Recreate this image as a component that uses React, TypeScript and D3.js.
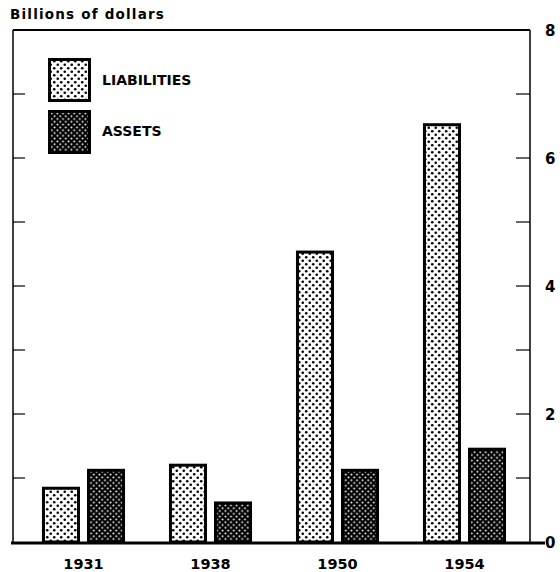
import React from "react";
import * as d3 from "d3";

const years = ["1931", "1938", "1950", "1954"];
const liabilities = [0.84, 1.2, 4.53, 6.52];
const assets = [1.12, 0.61, 1.12, 1.45];
const rightTickLabels = [0, 2, 4, 6, 8];
const minorTicks = [1, 2, 3, 4, 5, 6, 7];
const legendItems = ["LIABILITIES", "ASSETS"];

const W = 560;
const H = 572;
const left = 13;
const right = 530;
const top = 30;
const bottom = 542;

const font = "'DejaVu Sans', Verdana, sans-serif";

export default function App() {
  const y = d3.scaleLinear().domain([0, 8]).range([bottom, top]);
  const x = d3
    .scaleBand()
    .domain(years)
    .range([20, 528])
    .paddingInner(0.346)
    .paddingOuter(0.173);
  const inner = d3
    .scaleBand()
    .domain(["L", "A"])
    .range([1.5, x.bandwidth() - 1.5])
    .paddingInner(0.222);

  return (
    <svg width={W} height={H} style={{ position: "absolute", left: 0, top: 0, background: "#fff" }}>
      <defs>
        <pattern id="dots" width="7" height="7" patternUnits="userSpaceOnUse">
          <rect width="7" height="7" fill="#fff" />
          <circle cx="1.75" cy="1.75" r="1.3" fill="#000" />
          <circle cx="5.25" cy="5.25" r="1.3" fill="#000" />
        </pattern>
        <pattern id="dark" width="5.6" height="5.6" patternUnits="userSpaceOnUse">
          <rect width="5.6" height="5.6" fill="#000" />
          <circle cx="1.4" cy="1.4" r="1.0" fill="#fff" />
          <circle cx="4.2" cy="4.2" r="1.0" fill="#fff" />
        </pattern>
      </defs>

      {/* title */}
      <text
        x={10}
        y={19}
        fontFamily={font}
        fontWeight="bold"
        fontSize={13.5}
        letterSpacing={1.2}
        fill="#000"
      >
        Billions of dollars
      </text>

      {/* frame */}
      <line x1={left} y1={top} x2={right} y2={top} stroke="#000" strokeWidth={2} />
      <line x1={left} y1={top} x2={left} y2={bottom} stroke="#000" strokeWidth={1.5} />
      <line x1={right} y1={top} x2={right} y2={bottom} stroke="#000" strokeWidth={1.5} />

      {/* ticks */}
      {minorTicks.map((t) => (
        <g key={t}>
          <line x1={left} x2={left + 12} y1={y(t)} y2={y(t)} stroke="#000" strokeWidth={1.2} />
          <line x1={right - 14} x2={right} y1={y(t)} y2={y(t)} stroke="#000" strokeWidth={1.2} />
        </g>
      ))}
      {rightTickLabels.map((t) => (
        <text
          key={t}
          x={545}
          y={y(t) + 5.5}
          fontFamily={font}
          fontWeight="bold"
          fontSize={15}
          fill="#000"
        >
          {t}
        </text>
      ))}

      {/* bars */}
      {years.map((yr, i) => (
        <g key={yr}>
          <rect
            x={(x(yr) ?? 0) + (inner("L") ?? 0)}
            y={y(liabilities[i])}
            width={inner.bandwidth()}
            height={bottom - y(liabilities[i])}
            fill="url(#dots)"
            stroke="#000"
            strokeWidth={3}
          />
          <rect
            x={(x(yr) ?? 0) + (inner("A") ?? 0)}
            y={y(assets[i])}
            width={inner.bandwidth()}
            height={bottom - y(assets[i])}
            fill="url(#dark)"
            stroke="#000"
            strokeWidth={3}
          />
          <text
            x={(x(yr) ?? 0) + x.bandwidth() / 2}
            y={569}
            textAnchor="middle"
            fontFamily={font}
            fontWeight="bold"
            fontSize={14.5}
            fill="#000"
          >
            {yr}
          </text>
        </g>
      ))}

      {/* baseline */}
      <line x1={11} y1={bottom + 1} x2={545} y2={bottom + 1} stroke="#000" strokeWidth={3} />

      {/* legend */}
      {legendItems.map((name, i) => (
        <g key={name}>
          <rect
            x={49.5}
            y={59.5 + i * 52}
            width={40}
            height={41}
            fill={i === 0 ? "url(#dots)" : "url(#dark)"}
            stroke="#000"
            strokeWidth={3}
          />
          <text
            x={102}
            y={85 + i * 51}
            fontFamily={font}
            fontWeight="bold"
            fontSize={14}
            fill="#000"
          >
            {name}
          </text>
        </g>
      ))}
    </svg>
  );
}
